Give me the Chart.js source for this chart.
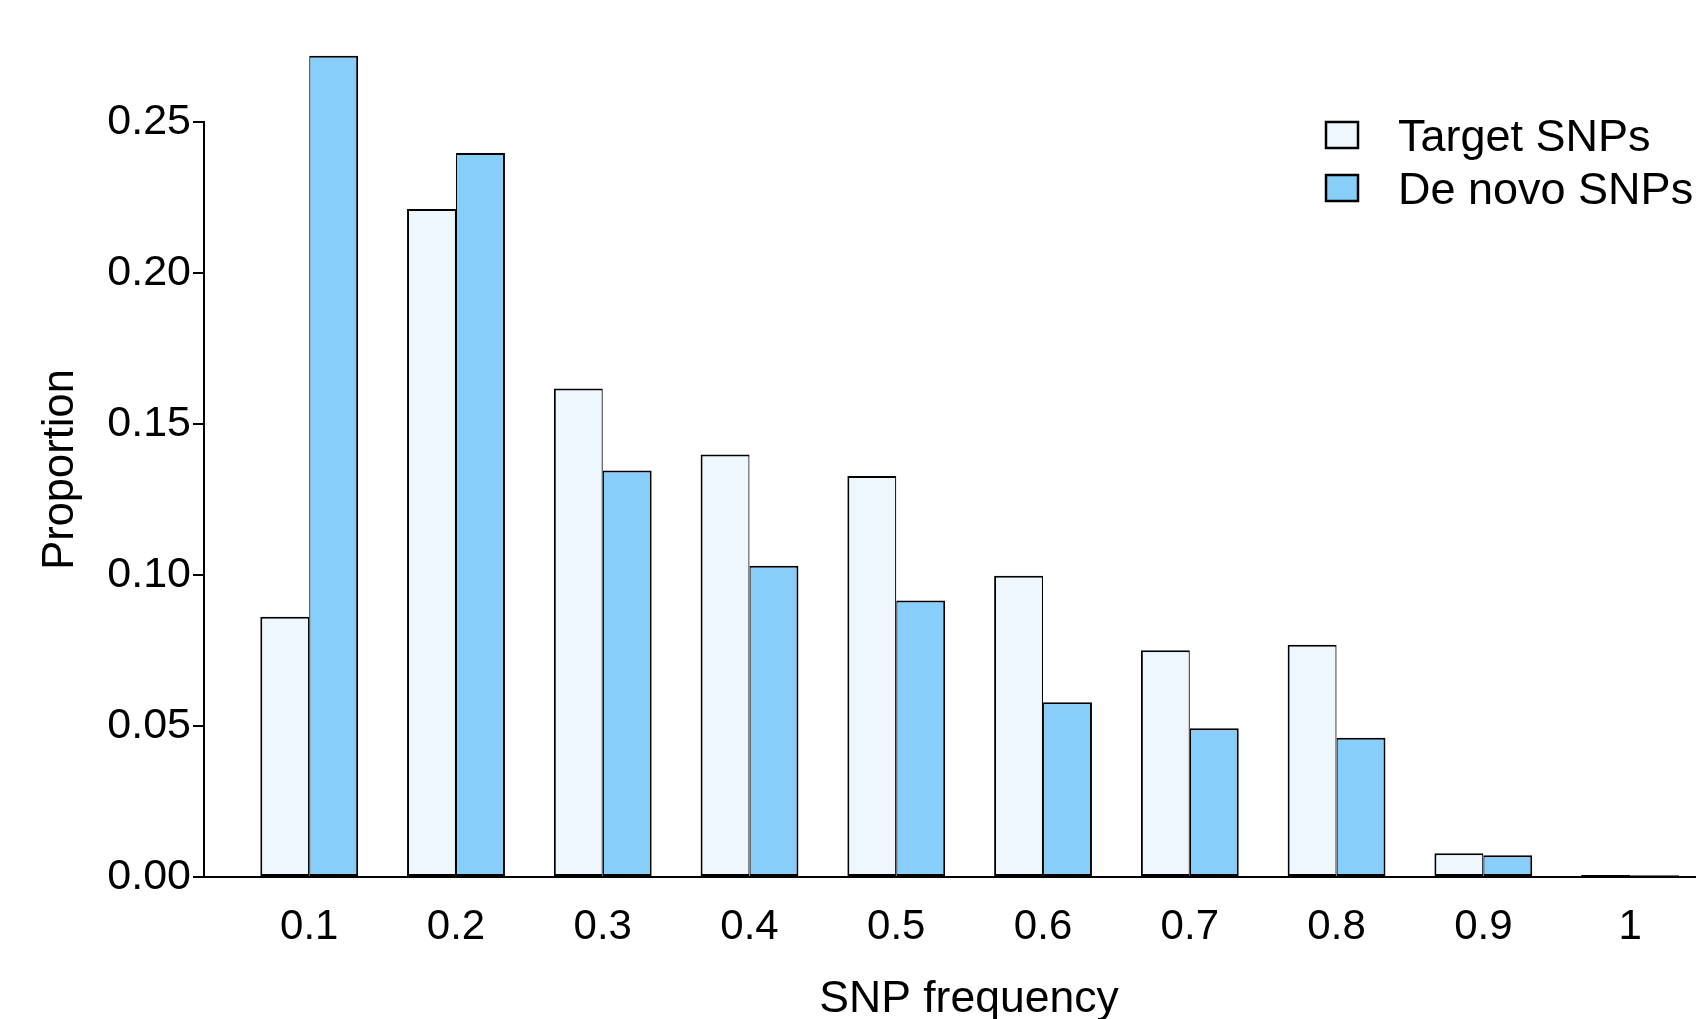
<!DOCTYPE html>
<html><head><meta charset="utf-8">
<script src="https://cdn.jsdelivr.net/npm/chart.js@4.4.1/dist/chart.umd.min.js"></script>
<style>html,body{margin:0;padding:0;background:#fff;overflow:hidden;width:1696px;height:1019px;}canvas{display:block;}</style>
</head><body>
<canvas id="c" width="1734" height="1019"></canvas>
<script>
// ---- data ----
const categories = [0.1, 0.2, 0.3, 0.4, 0.5, 0.6, 0.7, 0.8, 0.9, 1.0];
const xTickLabels = ["0.1", "0.2", "0.3", "0.4", "0.5", "0.6", "0.7", "0.8", "0.9", "1"];
const targetSNPs = [0.0862, 0.2212, 0.1618, 0.1399, 0.1328, 0.0998, 0.0751, 0.0769, 0.0079, 0.0007];
const deNovoSNPs = [0.2720, 0.2398, 0.1346, 0.1031, 0.0916, 0.0579, 0.0493, 0.0461, 0.0072, 0.0006];
const yTicks = [0, 0.05, 0.10, 0.15, 0.20, 0.25];
const seriesNames = ["Target SNPs", "De novo SNPs"];
const xTitle = "SNP frequency";
const yTitle = "Proportion";

const FONT = "'Liberation Sans', Arial, Helvetica, sans-serif";
const colors = ["#EEF6FE", "#87CEFA"];

const yAxisLine = {
  id: 'yAxisLine',
  afterDatasetsDraw(chart) {
    const y = chart.scales.y, ctx = chart.ctx;
    const x = chart.chartArea.left;
    ctx.save();
    ctx.strokeStyle = '#000'; ctx.lineWidth = 2;
    ctx.beginPath();
    ctx.moveTo(x, y.getPixelForValue(yTicks[0]) + 1);
    ctx.lineTo(x, y.getPixelForValue(yTicks[yTicks.length - 1]) - 1);
    ctx.stroke();
    ctx.restore();
  }
};

const customLegend = {
  id: 'customLegend',
  afterDraw(chart) {
    const ctx = chart.ctx;
    const boxX = 1326, boxW = 32, boxH = 26, textX = 1398;
    const rowTops = [122, 175];
    ctx.save();
    ctx.font = "45px " + FONT;
    ctx.textBaseline = 'middle';
    ctx.textAlign = 'left';
    chart.data.datasets.forEach((ds, i) => {
      const top = rowTops[i];
      ctx.fillStyle = ds.backgroundColor;
      ctx.fillRect(boxX, top, boxW, boxH);
      ctx.strokeStyle = '#000'; ctx.lineWidth = 2.5;
      ctx.strokeRect(boxX, top, boxW, boxH);
      ctx.fillStyle = '#000';
      ctx.fillText(ds.label, textX, top + boxH / 2 + 4);
    });
    ctx.restore();
  }
};

new Chart(document.getElementById('c'), {
  type: 'bar',
  data: {
    labels: categories,
    datasets: [
      { label: seriesNames[0], data: targetSNPs, backgroundColor: colors[0], borderColor: '#000',
        borderWidth: { top: 2, left: 2, bottom: 2, right: 1.2 }, borderSkipped: false },
      { label: seriesNames[1], data: deNovoSNPs, backgroundColor: colors[1], borderColor: '#000',
        borderWidth: { top: 2, left: 1.2, bottom: 2, right: 2 }, borderSkipped: false }
    ]
  },
  options: {
    responsive: false,
    animation: false,
    events: [],
    categoryPercentage: 2 / 3,
    barPercentage: 1,
    clip: false,
    layout: { padding: { top: 62, left: 0, right: 0, bottom: 0 } },
    plugins: { legend: { display: false }, tooltip: { enabled: false } },
    scales: {
      x: {
        type: 'linear',
        offset: false,
        min: 0.0283,
        max: 1.0708,
        afterFit(s) { s.height = 142; },
        afterBuildTicks(s) { s.ticks = categories.map(v => ({ value: v })); },
        grid: { display: false, drawTicks: false },
        border: { display: true, color: '#000', width: 2 },
        ticks: {
          autoSkip: false, maxRotation: 0, padding: 25, color: '#000',
          font: { family: FONT, size: 42 },
          callback: (v, i) => xTickLabels[i]
        },
        title: { display: true, text: xTitle, color: '#000', font: { family: FONT, size: 44.5 }, padding: { top: 0, bottom: -7 } }
      },
      y: {
        min: 0,
        max: 0.2699,
        afterFit(s) { s.width = 204; },
        afterBuildTicks(s) { s.ticks = yTicks.map(v => ({ value: v })); },
        grid: { display: true, drawOnChartArea: false, drawTicks: true, tickLength: 11, color: '#000', lineWidth: 2 },
        border: { display: false },
        ticks: {
          padding: 2, color: '#000',
          font: { family: FONT, size: 43 },
          callback: v => v.toFixed(2)
        },
        title: { display: true, text: yTitle, color: '#000', font: { family: FONT, size: 43.5 }, padding: { top: 35, bottom: 0 } }
      }
    }
  },
  plugins: [yAxisLine, customLegend]
});
</script>
</body></html>
